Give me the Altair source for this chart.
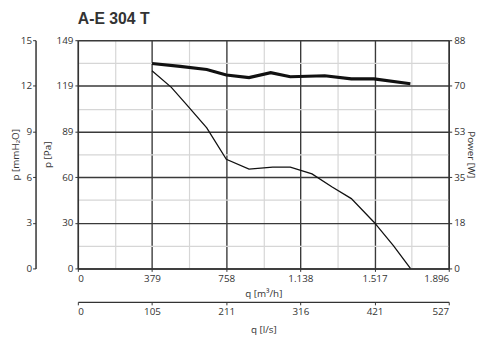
import altair as alt
import pandas as pd

# ---- data ----
chart_title = "A-E 304 T"

q_pressure = [379, 478, 558, 659, 759, 875, 996, 1086, 1197, 1298, 1398, 1514, 1614, 1700]
p_pa = [129.1, 118.2, 106.6, 91.8, 71.3, 64.9, 66.2, 66.2, 61.7, 53.3, 45.6, 30.2, 14.8, 0.0]

q_power = [379, 523, 659, 759, 875, 986, 1086, 1262, 1398, 1514, 1700]
power_w = [79.0, 77.9, 76.7, 74.6, 73.6, 75.5, 73.9, 74.3, 73.1, 73.1, 71.2]

pa_ticks = [0, 29.8, 59.6, 89.4, 119.2, 149]
power_ticks = [0, 17.6, 35.2, 52.8, 70.4, 88]
mm_ticks = [0, 3, 6, 9, 12, 15]
qm3h_ticks = [0, 379.2, 758.4, 1137.6, 1516.8, 1896]
qls_ticks = [0, 105.33, 210.67, 316.0, 421.33, 526.67]

x_minor = [(a + b) / 2 for a, b in zip(qm3h_ticks, qm3h_ticks[1:])]
y_minor = [(a + b) / 2 for a, b in zip(pa_ticks, pa_ticks[1:])]

FONT = "Open Sans"
TXT = "#333333"
common = dict(
    labelFont=FONT, labelFontSize=10, labelColor=TXT,
    titleFont=FONT, titleFontSize=10, titleColor=TXT, titleFontWeight="normal",
    domainColor="#333333", domainWidth=1.5, tickColor="#333333", tickSize=3,
)

xs = alt.Scale(domain=[0, 1896], nice=False, zero=False)
ys = alt.Scale(domain=[0, 149], nice=False, zero=False)

df_p = pd.DataFrame({"q": q_pressure, "p": p_pa})
df_w = pd.DataFrame({"q": q_power, "w": power_w})
df_mm = pd.DataFrame({"mm": mm_ticks})
df_ls = pd.DataFrame({"ls": qls_ticks})

minor = alt.Chart(df_p).mark_point(opacity=0).encode(
    x=alt.X("q:Q", scale=xs, axis=alt.Axis(values=x_minor, grid=True, gridColor="#d6d6d6", gridWidth=1.2,
                                           labels=False, ticks=False, domain=False, title=None, orient="bottom")),
    y=alt.Y("p:Q", scale=ys, axis=alt.Axis(values=y_minor, grid=True, gridColor="#d6d6d6", gridWidth=1.2,
                                           labels=False, ticks=False, domain=False, title=None, orient="left")),
)

pressure = alt.Chart(df_p).mark_line(color="#111111", strokeWidth=1.3).encode(
    x=alt.X("q:Q", scale=xs, axis=alt.Axis(values=qm3h_ticks, grid=True, gridColor="#3a3a3a", gridWidth=1.4,
                                           title="q [m³/h]", orient="bottom", titlePadding=6, labelPadding=2,
                                           labelExpr="replace(format(datum.value, ',.0f'), ',', '.')", **common)),
    y=alt.Y("p:Q", scale=ys, axis=alt.Axis(values=pa_ticks, format=".0f", grid=True, gridColor="#3a3a3a",
                                           gridWidth=1.4, title="p [Pa]", orient="left", titlePadding=4,
                                           labelPadding=2, **common)),
)

power = alt.Chart(df_w).mark_line(color="#111111", strokeWidth=3.2).encode(
    x=alt.X("q:Q", scale=xs, axis=None),
    y=alt.Y("w:Q", scale=alt.Scale(domain=[0, 88], nice=False, zero=False),
            axis=alt.Axis(values=power_ticks, format=".0f", grid=False, title="Power [W]", orient="right",
                          titlePadding=1, labelPadding=2, **common)),
)

mm_axis = alt.Chart(df_mm).mark_point(opacity=0).encode(
    y=alt.Y("mm:Q", scale=alt.Scale(domain=[0, 15], nice=False, zero=False),
            axis=alt.Axis(values=mm_ticks, grid=False, title="p [mmH₂O]", orient="left", offset=43,
                          titlePadding=0, labelPadding=1, **common)),
)

ls_axis = alt.Chart(df_ls).mark_point(opacity=0).encode(
    x=alt.X("ls:Q", scale=alt.Scale(domain=[0, 526.67], nice=False, zero=False),
            axis=alt.Axis(values=qls_ticks, format=".0f", grid=False, title="q [l/s]", orient="bottom",
                          offset=34, titlePadding=8, labelPadding=2, **common)),
)

chart = alt.layer(minor, pressure, power, mm_axis, ls_axis).resolve_scale(
    x="independent", y="independent"
).properties(
    width=377, height=232,
    autosize="none",
    padding={"left": 71, "top": 30, "right": 46, "bottom": 70},
    title=alt.TitleParams(chart_title, anchor="start", frame="group", font="Liberation Sans",
                          fontSize=16, fontWeight="bold", color=TXT, offset=8),
).configure_view(stroke=None).configure(background="white")

chart.save("out.html", embed_options={"renderer": "svg", "actions": False})
